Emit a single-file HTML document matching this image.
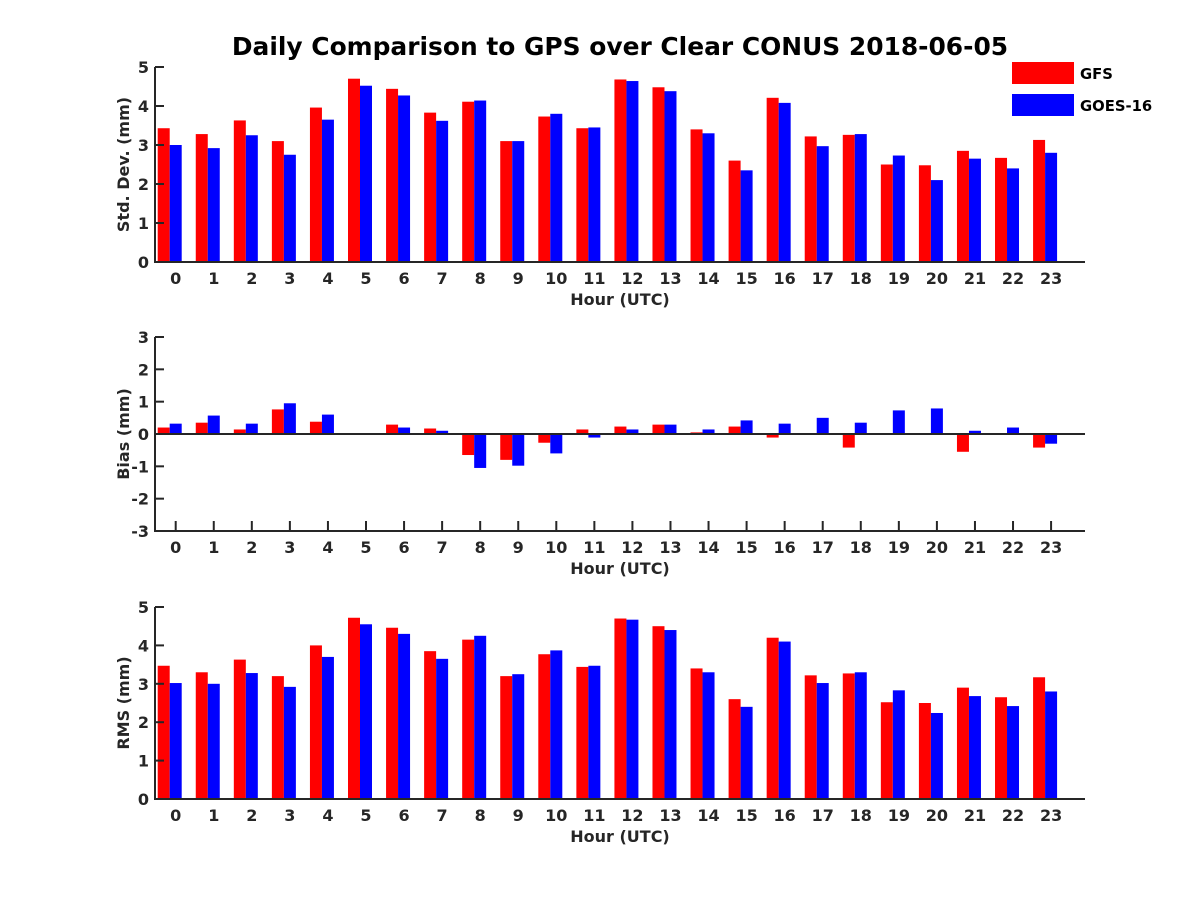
<!DOCTYPE html>
<html><head><meta charset="utf-8"><style>
body{margin:0;background:#fff;}
svg{display:block;font-family:"DejaVu Sans","Liberation Sans",sans-serif;font-weight:bold;}
</style></head><body>
<svg id="chart" width="1200" height="900" xmlns="http://www.w3.org/2000/svg">
<rect width="1200" height="900" fill="#fff"/>
<text x="620" y="55" text-anchor="middle" font-size="24.9" fill="#000">Daily Comparison to GPS over Clear CONUS 2018-06-05</text>
<g>
<rect x="1012" y="62" width="62" height="22" fill="#ff0000"/>
<text x="1080" y="79" font-size="14.8" fill="#000">GFS</text>
<rect x="1012" y="94" width="62" height="22" fill="#0000ff"/>
<text x="1080" y="111" font-size="14.8" fill="#000">GOES-16</text>
</g>
</svg>
<script>
const hours = [0,1,2,3,4,5,6,7,8,9,10,11,12,13,14,15,16,17,18,19,20,21,22,23];
const stdGFS  = [3.43,3.28,3.63,3.10,3.96,4.70,4.44,3.83,4.11,3.10,3.73,3.43,4.68,4.48,3.40,2.60,4.21,3.22,3.26,2.50,2.48,2.85,2.67,3.13];
const stdGOES = [3.00,2.92,3.25,2.75,3.65,4.52,4.27,3.62,4.14,3.10,3.80,3.45,4.64,4.38,3.30,2.35,4.08,2.97,3.28,2.73,2.10,2.65,2.40,2.80];
const biasGFS  = [0.20,0.35,0.14,0.76,0.38,0.03,0.29,0.17,-0.65,-0.80,-0.27,0.14,0.23,0.29,0.05,0.23,-0.11,0.00,-0.42,-0.03,0.00,-0.55,-0.03,-0.42];
const biasGOES = [0.32,0.57,0.32,0.95,0.60,0.00,0.20,0.10,-1.05,-0.98,-0.60,-0.11,0.14,0.29,0.14,0.42,0.32,0.50,0.35,0.73,0.79,0.10,0.20,-0.30];
const rmsGFS  = [3.47,3.30,3.63,3.20,4.00,4.72,4.46,3.85,4.15,3.20,3.77,3.44,4.70,4.50,3.40,2.60,4.20,3.22,3.27,2.52,2.50,2.90,2.65,3.17];
const rmsGOES = [3.02,3.00,3.28,2.92,3.70,4.55,4.30,3.65,4.25,3.25,3.87,3.47,4.67,4.40,3.30,2.40,4.10,3.02,3.30,2.83,2.24,2.68,2.42,2.80];
const stdTicks = [0,1,2,3,4,5];
const biasTicks = [-3,-2,-1,0,1,2,3];
const rmsTicks = [0,1,2,3,4,5];

const svg = document.getElementById('chart');
const NS = 'http://www.w3.org/2000/svg';
function mk(tag, attrs, parent){
  const e = document.createElementNS(NS, tag);
  for (const k in attrs) e.setAttribute(k, attrs[k]);
  (parent||svg).appendChild(e);
  return e;
}
const xLeft = 155, xRight = 1085;
function xPos(h){ return 175.7 + h*38.06; }

function panel(name, top, bottom, yMin, yMax, ticks, s1, s2, ylabel){
  const g = mk('g', {});
  
  
  const y = v => bottom - (v - yMin) / (yMax - yMin) * (bottom - top);
  const base = y(Math.max(yMin, Math.min(0, yMax)));
  hours.forEach((h) => {
    const c = xPos(h);
    const tk = mk('line', {x1: c, x2: c, y1: bottom, y2: bottom-10, stroke: '#262626', 'stroke-width': 2}, g);
    
    
    const tl = mk('text', {x: c, y: bottom+22, 'text-anchor': 'middle', 'font-size': 16, fill: '#262626'}, g);
    tl.textContent = h;
    
    
  });
  hours.forEach((h, i) => {
    const c = xPos(h);
    [[s1[i], '#ff0000', c-18, 'gfs'], [s2[i], '#0000ff', c-6, 'goes16']].forEach(([v, col, x0, ser]) => {
      const yv = y(v);
      const r = mk('rect', {x: x0, y: Math.min(yv, base), width: 12, height: Math.max(Math.abs(yv-base), 0.01), fill: col}, g);
      
      
    });
  });
  if (yMin < 0) {
    const zl = mk('line', {x1: xLeft, x2: xRight, y1: base, y2: base, stroke: '#262626', 'stroke-width': 2}, g);
    
    
  }
  ticks.forEach(t => {
    const yy = y(t);
    const l = mk('line', {x1: xLeft, x2: xLeft+9, y1: yy, y2: yy, stroke: '#262626', 'stroke-width': 2}, g);
    
    
    const tx = mk('text', {x: xLeft-6, y: yy+6, 'text-anchor': 'end', 'font-size': 16, fill: '#262626'}, g);
    tx.textContent = t;
    
    
  });
  const ax = mk('path', {d: `M${xLeft},${top} L${xLeft},${bottom} L${xRight},${bottom}`, fill: 'none', stroke: '#262626', 'stroke-width': 2}, g);
  
  
  const xl = mk('text', {x: 620, y: bottom+43, 'text-anchor': 'middle', 'font-size': 16, fill: '#262626'}, g);
  xl.textContent = 'Hour (UTC)';
  
  
  const cy = (top + bottom) / 2;
  const yl = mk('text', {x: 0, y: 0, transform: `translate(129,${cy}) rotate(-90)`, 'text-anchor': 'middle', 'font-size': 16, fill: '#262626'}, g);
  yl.textContent = ylabel;
  
  
}
panel('std-dev', 67, 262, 0, 5, stdTicks, stdGFS, stdGOES, 'Std. Dev. (mm)');
panel('bias', 337, 531, -3, 3, biasTicks, biasGFS, biasGOES, 'Bias (mm)');
panel('rms', 607, 799, 0, 5, rmsTicks, rmsGFS, rmsGOES, 'RMS (mm)');
</script>
</body></html>
